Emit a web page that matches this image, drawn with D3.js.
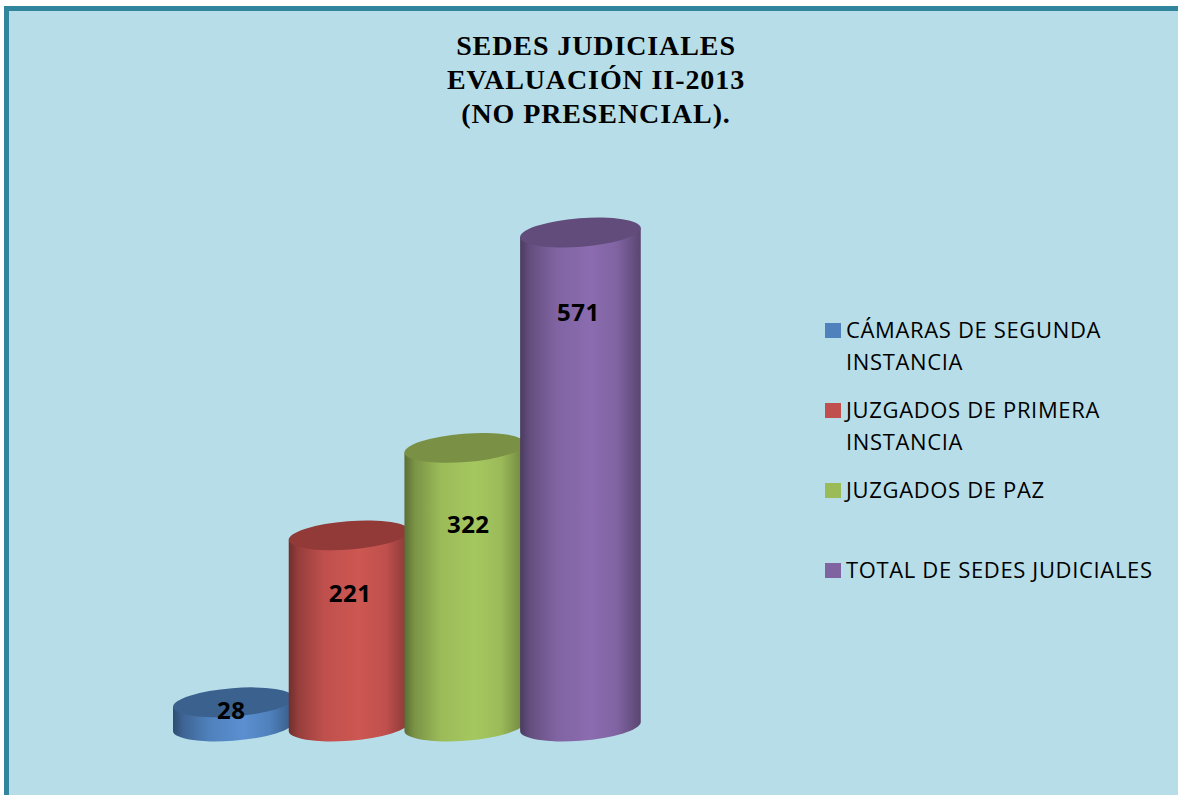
<!DOCTYPE html>
<html><head><meta charset="utf-8">
<script src="https://cdnjs.cloudflare.com/ajax/libs/d3/7.8.5/d3.min.js"></script>
<style>html,body{margin:0;padding:0;background:#fff;overflow:hidden}svg{display:block}</style>
</head><body><svg id="c" width="1178" height="795"></svg>
<script>
const categories = ["CÁMARAS DE SEGUNDA INSTANCIA","JUZGADOS DE PRIMERA INSTANCIA","JUZGADOS DE PAZ","TOTAL DE SEDES JUDICIALES"];
const values = [28,221,322,571];
const colors = ["#4f81bd","#c0504d","#9bbb59","#8064a2"];
const bright = ["#5b8fd0","#cd5751","#a5c75f","#8b6cb0"];
const topColors = ["#3b618f","#913a38","#7a9044","#624c7c"];
const legendLines = [["CÁMARAS DE SEGUNDA","INSTANCIA"],["JUZGADOS DE PRIMERA","INSTANCIA"],["JUZGADOS DE PAZ"],["TOTAL DE SEDES JUDICIALES"]];
const titleLines = ["SEDES JUDICIALES","EVALUACIÓN II-2013","(NO PRESENCIAL)."];
const labelLevels = [24,159,239,484];
const labelNudge = [-2,1,3.5,-2];

const W=1178,H=795;
const svg=d3.select("#c");
svg.append("rect").attr("x",4).attr("y",6).attr("width",W-4).attr("height",H-6).attr("fill","#31859c");
svg.append("rect").attr("x",9).attr("y",11).attr("width",W-9).attr("height",H-11).attr("fill","#b7dee8");

const title=svg.append("g");
titleLines.forEach((t,i)=>title.append("text").text(t).attr("x",596).attr("y",55+i*34)
  .attr("text-anchor","middle").attr("font-family","Liberation Serif").attr("font-weight","bold")
  .attr("font-size",28).attr("letter-spacing",0.9).attr("fill","#000"));

const x=d3.scaleBand().domain(d3.range(values.length)).range([175,637.8]).padding(0);
const y=d3.scaleLinear().domain([0,571]).range([731,237]);
const a=60.5,b=14.2,phi=-4.5*Math.PI/180;
const ex=Math.sqrt(a*a*Math.cos(phi)**2+b*b*Math.sin(phi)**2);
const ey=(a*a-b*b)*Math.sin(phi)*Math.cos(phi)/ex;
const rot=phi*180/Math.PI;
const defs=svg.append("defs");
values.forEach((v,i)=>{
  const cx=x(i)+x.bandwidth()/2+0.5;
  const g=defs.append("linearGradient").attr("id","g"+i).attr("gradientUnits","userSpaceOnUse")
    .attr("x1",cx-ex).attr("x2",cx+ex).attr("y1",0).attr("y2",0);
  const dark=d3.color(colors[i]).darker(1.5), mid=d3.color(colors[i]).darker(0.7);
  [[0,dark],[0.08,mid],[0.3,colors[i]],[0.58,bright[i]],[0.8,colors[i]],[1,d3.color(colors[i]).darker(1)]]
    .forEach(([o,c])=>g.append("stop").attr("offset",o).attr("stop-color",c));
  const yt=y(v), yb=y(0);
  const lx=cx-ex, rx=cx+ex;
  const grp=svg.append("g");
  grp.append("path").attr("fill",`url(#g${i})`)
    .attr("d",`M${lx},${yt} L${lx},${yb} A${a},${b} ${rot} 0 0 ${rx},${yb+2*ey} L${rx},${yt+2*ey} Z`);
  grp.append("ellipse").attr("cx",0).attr("cy",0).attr("rx",a).attr("ry",b)
    .attr("transform",`translate(${cx},${yt+ey}) rotate(${rot})`).attr("fill",topColors[i]);
});
values.forEach((v,i)=>{
  svg.append("text").text(v).attr("x",x(i)+x.bandwidth()/2+0.5+labelNudge[i]).attr("y",y(labelLevels[i])+9)
    .attr("text-anchor","middle").attr("font-family","Open Sans").attr("font-weight","bold")
    .attr("font-size",24).attr("letter-spacing",0.5).attr("fill","#000");
});
const rows=[330,410,490,570];
legendLines.forEach((ls,i)=>{
  svg.append("rect").attr("x",825).attr("y",rows[i]-7).attr("width",16).attr("height",15).attr("fill",colors[i]);
  ls.forEach((t,j)=>svg.append("text").text(t).attr("x",846).attr("y",rows[i]+8+j*32)
    .attr("font-family","Open Sans").attr("font-size",22).attr("letter-spacing",0.65).attr("fill","#000"));
});
</script></body></html>
